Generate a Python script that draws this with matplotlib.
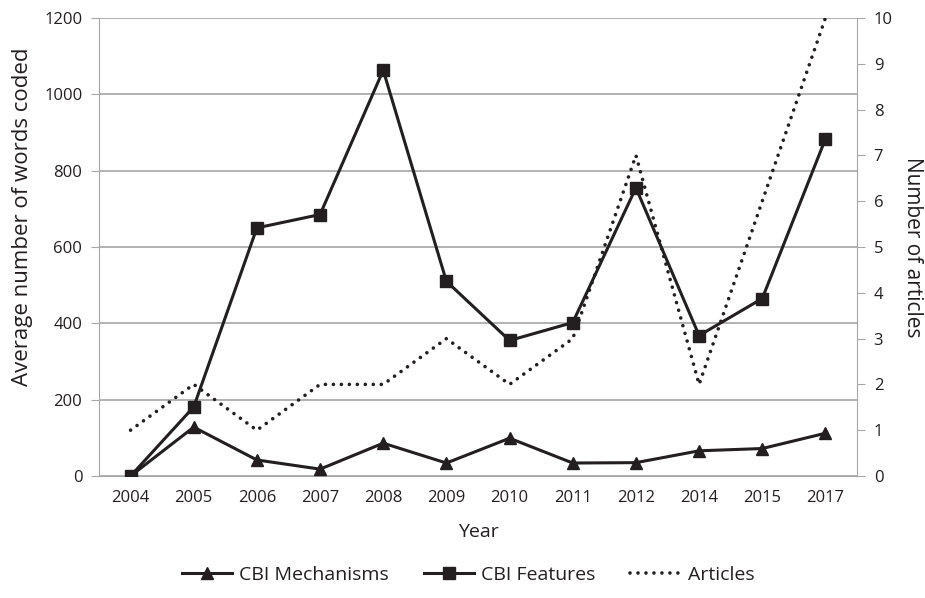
import matplotlib
matplotlib.use("Agg")
import matplotlib.pyplot as plt
from matplotlib.lines import Line2D

plt.rcParams['font.family'] = ['Open Sans', 'DejaVu Sans']

# Data
years = ['2004', '2005', '2006', '2007', '2008', '2009', '2010', '2011',
         '2012', '2014', '2015', '2017']
mechanisms = [0, 128, 42, 18, 86, 34, 99, 34, 35, 66, 72, 112]
features = [0, 181, 650, 685, 1063, 510, 355, 402, 755, 368, 465, 883]
articles = [1, 2, 1, 2, 2, 3, 2, 3, 7, 2, 6, 10]

ink = '#231f20'
grid = '#a6a6a6'
dots = (0, (0.01, 2.2))

fig = plt.figure(figsize=(9.25, 5.98), dpi=100)
ax = fig.add_axes([0.107, 0.204, 0.8195, 0.766])
ax2 = ax.twinx()

x = list(range(len(years)))

ax.plot(x, mechanisms, color=ink, lw=2.2, marker='^', ms=9, zorder=3)
ax.plot(x, features, color=ink, lw=2.2, marker='s', ms=8.5, zorder=3)
ax2.plot(x, articles, color=ink, lw=2.6, ls=dots, dash_capstyle='round')

ax.set_xlim(-0.5, len(years) - 0.5)
ax.set_ylim(0, 1200)
ax.set_yticks(range(0, 1201, 200))
ax.set_xticks(x)
ax.set_xticklabels(years)
ax2.set_ylim(0, 10)
ax2.set_yticks(range(0, 11))

ax.grid(axis='y', color=grid, lw=1.2)
ax.set_axisbelow(True)

for a in (ax, ax2):
    for s in a.spines.values():
        s.set_visible(False)
ax.spines['left'].set_visible(True)
ax.spines['left'].set_color(grid)
ax.spines['bottom'].set_visible(True)
ax.spines['bottom'].set_color(grid)
ax2.spines['right'].set_visible(True)
ax2.spines['right'].set_color(grid)

ax.tick_params(axis='x', length=0, pad=10, labelsize=12, colors=ink)
ax.tick_params(axis='y', length=6, color=grid, pad=6, labelsize=12,
               labelcolor=ink)
ax2.tick_params(axis='y', length=6, color=grid, pad=6, labelsize=12,
                labelcolor=ink)

ax.set_xlabel('Year', fontsize=14, color=ink, labelpad=12)
ax.set_ylabel('Average number of words coded', fontsize=16, color=ink)
ax.yaxis.set_label_coords(-0.087, 0.566)
ax2.set_ylabel('Number of articles', fontsize=15, color=ink,
               rotation=270, labelpad=22)

handles = [
    Line2D([], [], color=ink, lw=2.2, marker='^', ms=8),
    Line2D([], [], color=ink, lw=2.2, marker='s', ms=8),
    Line2D([], [], color=ink, lw=2.6, ls=dots, dash_capstyle='round'),
]
fig.legend(handles, ['CBI Mechanisms', 'CBI Features', 'Articles'],
           loc='center', bbox_to_anchor=(0.506, 0.038), ncol=3,
           frameon=False, fontsize=14, handlelength=2.6, handletextpad=0.35,
           columnspacing=1.8, labelcolor=ink)

fig.savefig('out.png', dpi=100)
